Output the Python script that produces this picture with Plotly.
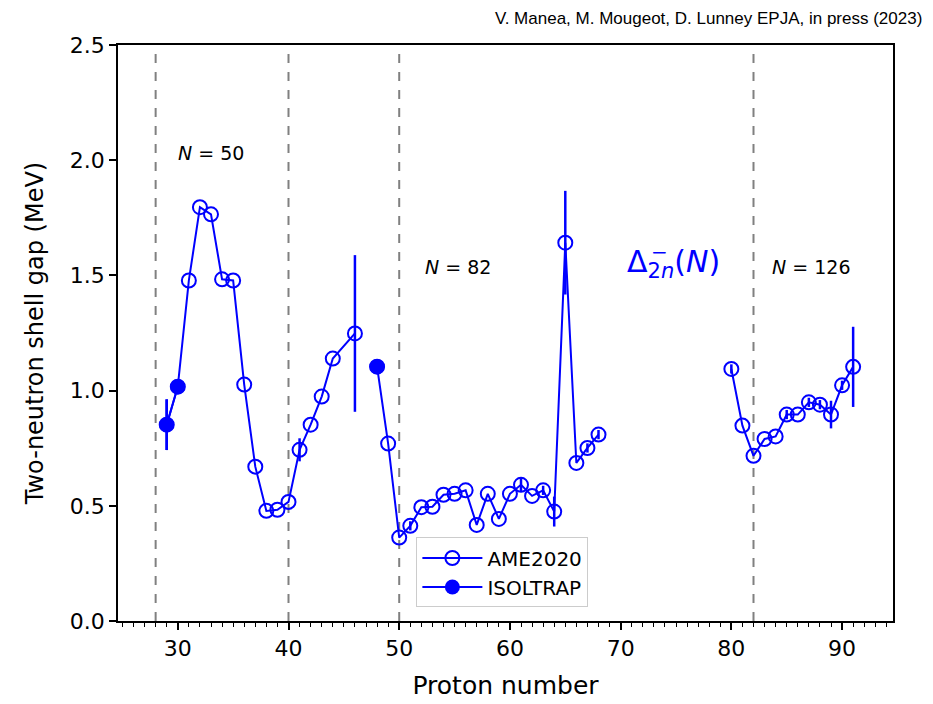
import plotly.graph_objects as go

BLUE = "#0000ff"
FONT = "DejaVu Sans, sans-serif"

# AME2020 two-neutron shell gap (MeV) vs proton number; None breaks the line
ame_z = [29, 30, 31, 32, 33, 34, 35, 36, 37, 38, 39, 40, 41, 42, 43, 44, 46, 47,
         48, 49, 50, 51, 52, 53, 54, 55, 56, 57, 58, 59, 60, 61, 62, 63, 64, 65,
         66, 67, 68, 69,
         80, 81, 82, 83, 84, 85, 86, 87, 88, 89, 90, 91]
ame_gap = [0.852, 1.017, 1.478, 1.796, 1.765, 1.483, 1.478, 1.026, 0.670, 0.478,
           0.483, 0.517, 0.743, 0.852, 0.974, 1.139, 1.248, None,
           1.104, 0.770, 0.362, 0.413, 0.494, 0.496, 0.548, 0.552, 0.567, 0.417,
           0.552, 0.443, 0.552, 0.591, 0.543, 0.567, 0.475, 1.642,
           0.686, 0.751, 0.809, None,
           1.094, 0.848, 0.717, 0.790, 0.801, 0.896, 0.896, 0.949, 0.939, 0.896,
           1.023, 1.103]
ame_err = [0.11, 0.02, 0.0, 0.0, 0.0, 0.0, 0.0, 0.0, 0.0, 0.0,
           0.0, 0.0, 0.05, 0.0, 0.0, 0.0, 0.34, None,
           0.0, 0.0, 0.0, 0.02, 0.0, 0.0, 0.0, 0.0, 0.0, 0.0,
           0.0, 0.0, 0.0, 0.03, 0.0, 0.02, 0.065, 0.225,
           0.0, 0.02, 0.02, None,
           0.02, 0.0, 0.0, 0.0, 0.0, 0.02, 0.0, 0.02, 0.02, 0.06,
           0.02, 0.174]

# ISOLTRAP points
iso_z = [29, 30, 48]
iso_gap = [0.852, 1.017, 1.104]
iso_err = [0.11, 0.02, 0.0]

# magic numbers (dashed lines) and labels
magic_z = [28, 40, 50, 82]
n_labels = ["<i>N</i> = 50", "<i>N</i> = 82", "<i>N</i> = 126"]
n_label_z = [33.0, 55.3, 87.2]
n_label_y = [2.03, 1.535, 1.535]

fig = go.Figure()

fig.add_trace(go.Scatter(
    x=ame_z, y=ame_gap, mode="lines+markers", name="AME2020",
    line=dict(color=BLUE, width=2),
    marker=dict(symbol="circle-open", size=14, color=BLUE, line=dict(width=2, color=BLUE)),
    error_y=dict(type="data", array=ame_err, color=BLUE, thickness=2.5, width=0),
    connectgaps=False,
))

# break the ISOLTRAP line between 30 and 48
iso_x_plot = iso_z[:2] + [None] + iso_z[2:]
iso_y_plot = iso_gap[:2] + [None] + iso_gap[2:]
iso_e_plot = iso_err[:2] + [None] + iso_err[2:]
fig.add_trace(go.Scatter(
    x=iso_x_plot, y=iso_y_plot, mode="lines+markers", name="ISOLTRAP",
    line=dict(color=BLUE, width=2),
    marker=dict(symbol="circle", size=15, color=BLUE),
    error_y=dict(type="data", array=iso_e_plot, color=BLUE, thickness=2.5, width=0),
    connectgaps=False,
))

for z in magic_z:
    fig.add_vline(x=z, line=dict(color="#808080", width=2, dash="dash"), layer="below")

for txt, z, y in zip(n_labels, n_label_z, n_label_y):
    fig.add_annotation(x=z, y=y, text=txt, showarrow=False,
                       font=dict(family=FONT, size=19, color="black"))

# Delta_2n^-(N) label: the minus is a separate annotation above the subscript
fig.add_annotation(x=74.8, y=1.55, text="Δ<sub>2<i>n</i></sub>(<i>N</i>)", showarrow=False,
                   font=dict(family=FONT, size=30, color=BLUE))
fig.add_annotation(x=73.5, y=1.60, text="−", showarrow=False,
                   font=dict(family=FONT, size=20, color=BLUE))

fig.update_layout(
    width=933, height=704,
    margin=dict(l=110, r=48, t=37, b=91),
    paper_bgcolor="white", plot_bgcolor="white",
    font=dict(family=FONT, size=20, color="black"),
    title=dict(text="V. Manea, M. Mougeot, D. Lunney EPJA, in press (2023)",
               x=0.98, xanchor="right", xref="container", y=0.986, yanchor="middle",
               font=dict(family="Liberation Sans, Arial, sans-serif", size=17, color="black")),
    legend=dict(x=0.385, y=0.145, xanchor="left", yanchor="top",
                bgcolor="rgba(255,255,255,0.8)", bordercolor="#cccccc", borderwidth=1,
                font=dict(family=FONT, size=20), itemwidth=60, tracegroupgap=2),
    showlegend=True,
)
fig.update_xaxes(
    range=[24.6, 94.6], tickvals=[30, 40, 50, 60, 70, 80, 90],
    showgrid=False, zeroline=False, showline=True, linecolor="black", linewidth=1.5,
    mirror=True, ticks="outside", ticklen=7, tickwidth=1.5, tickcolor="black",
    tickfont=dict(size=22),
    minor=dict(dtick=1, tick0=0, ticks="outside", ticklen=4, tickwidth=1, tickcolor="black"),
    title=dict(text="Proton number", font=dict(size=25), standoff=16),
)
fig.update_yaxes(
    range=[0, 2.5], dtick=0.5, tickformat=".1f",
    showgrid=False, zeroline=False, showline=True, linecolor="black", linewidth=1.5,
    mirror=True, ticks="outside", ticklen=7, tickwidth=1.5, tickcolor="black",
    tickfont=dict(size=22),
    title=dict(text="Two-neutron shell gap (MeV)", font=dict(size=24), standoff=19),
)

fig.write_html("out.html")
